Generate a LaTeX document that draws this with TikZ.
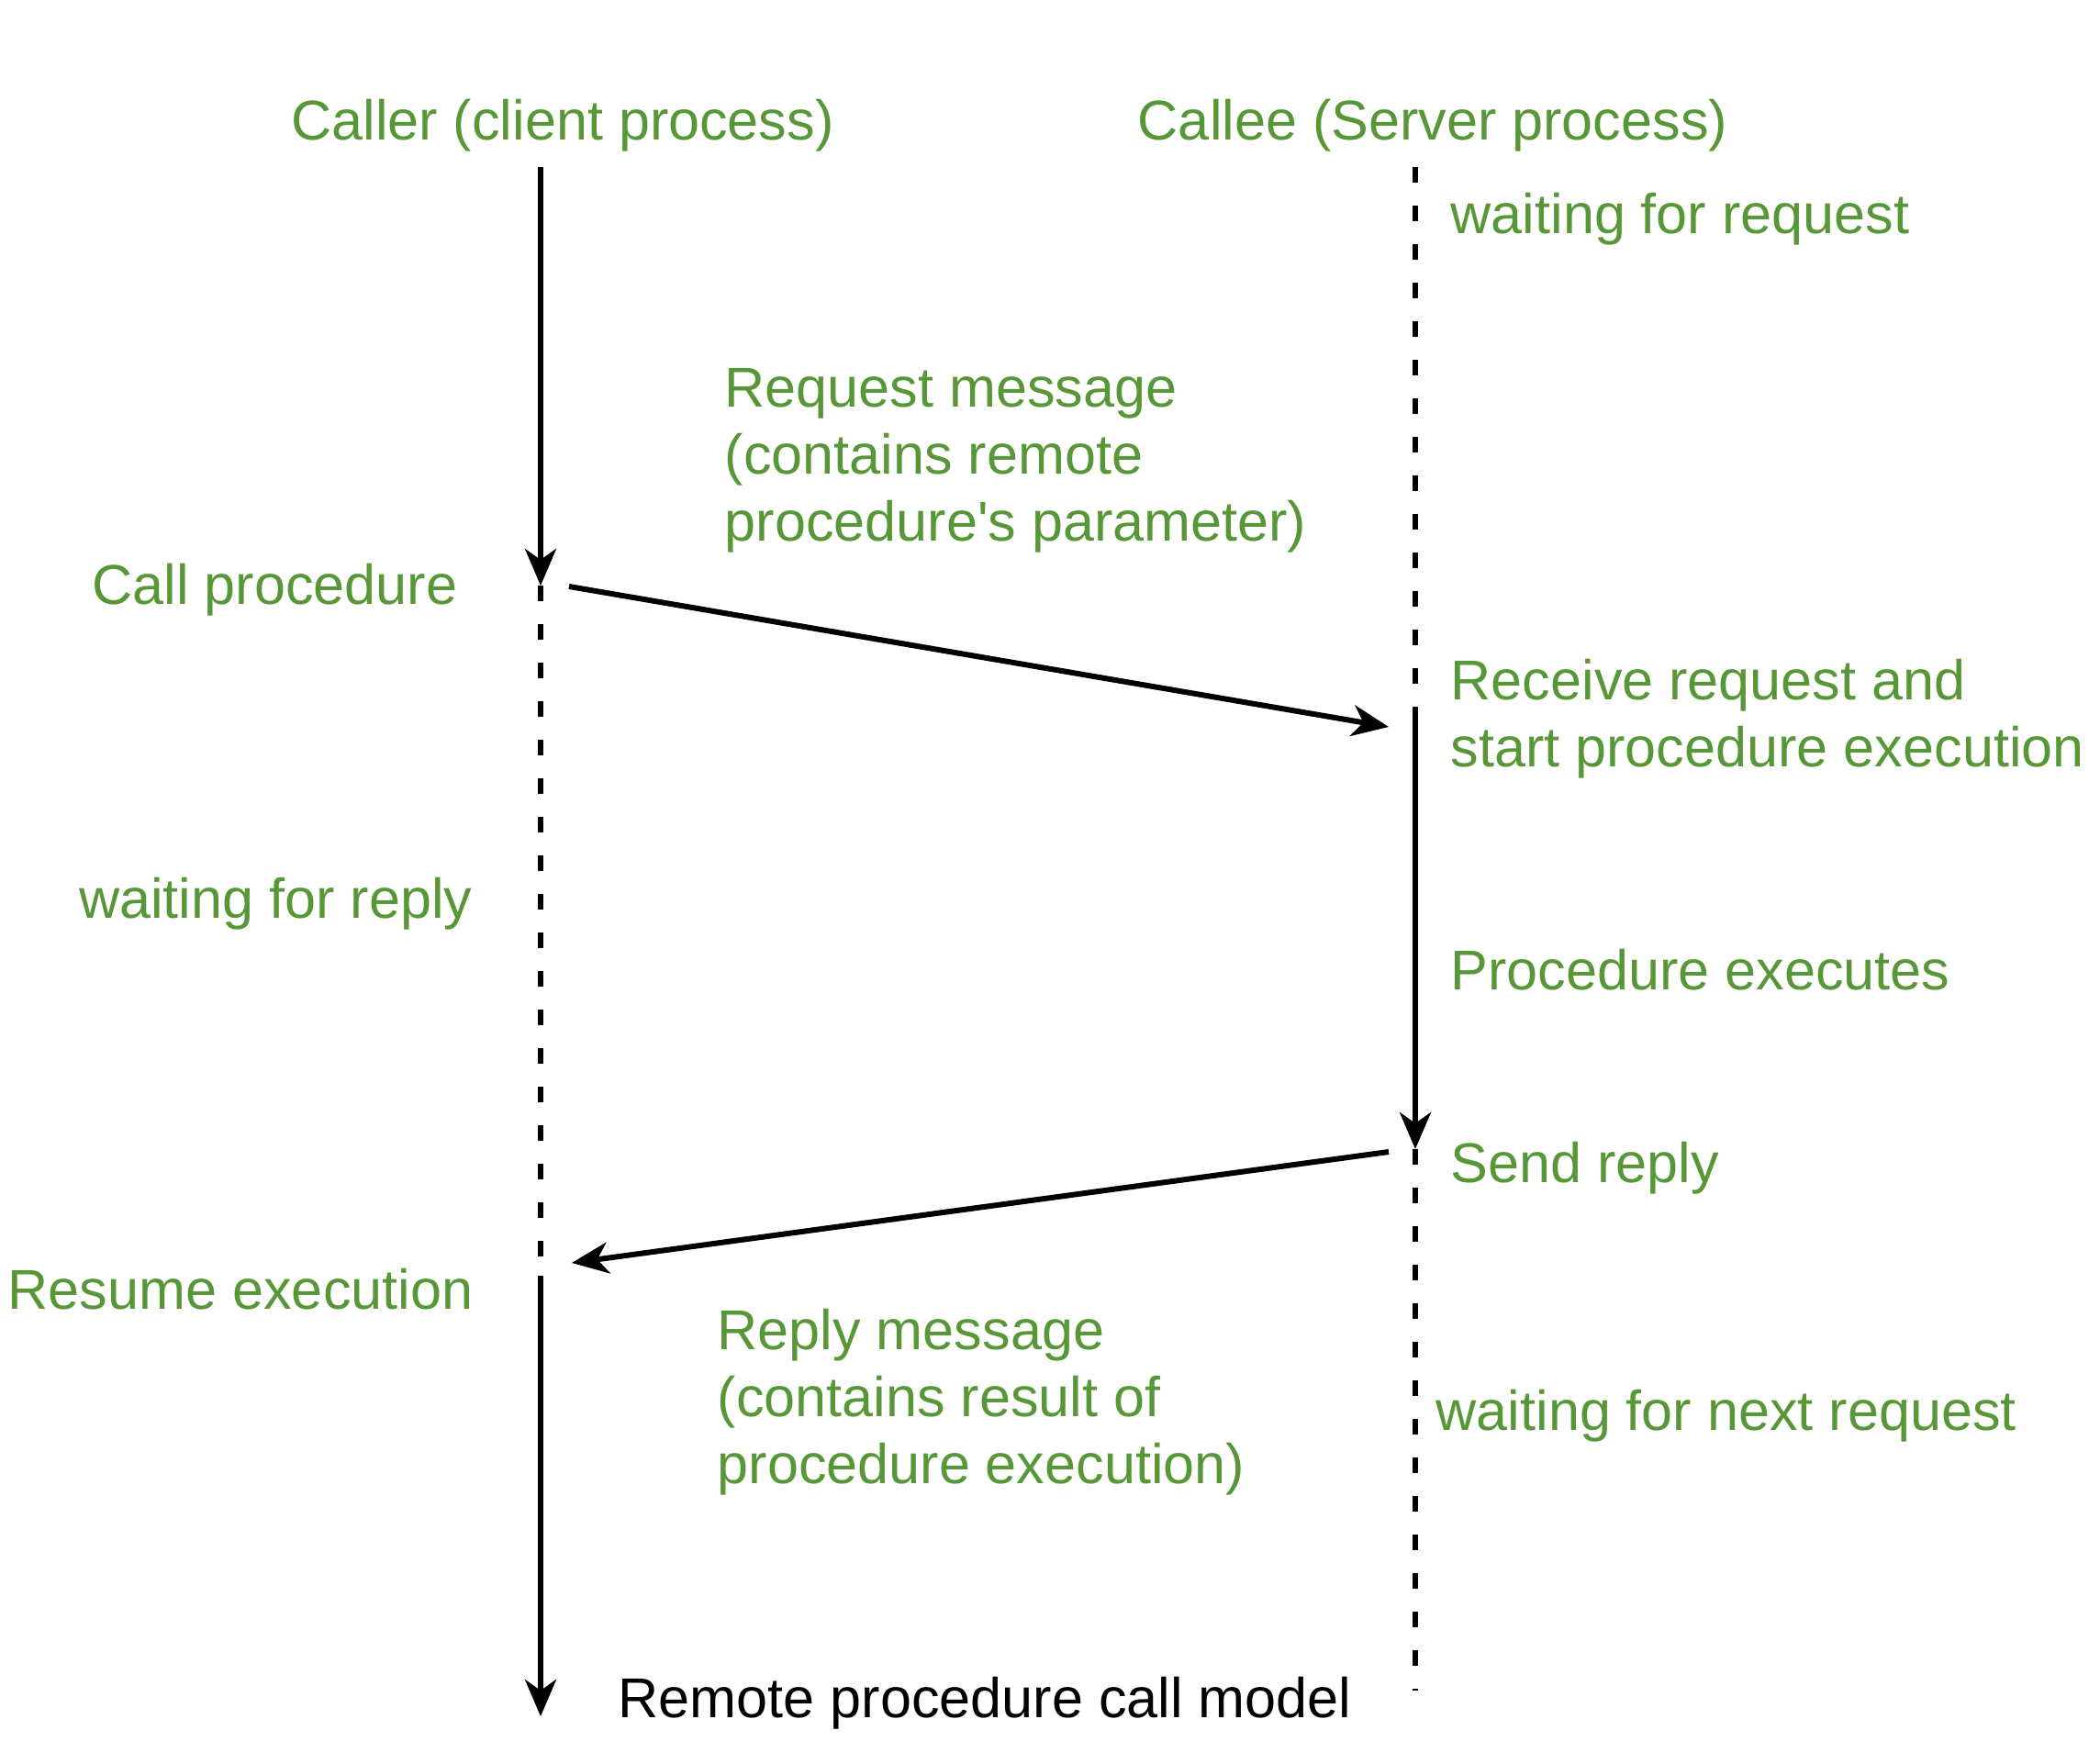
\documentclass[tikz,border=0pt]{standalone}
\usepackage{fontspec}
\setmainfont{Liberation Sans}
\usetikzlibrary{arrows.meta, positioning}
\definecolor{rpcgreen}{RGB}{88,151,55}

\begin{document}
\begin{tikzpicture}[
    lbl/.style={text=rpcgreen, inner sep=0pt, align=left, font=\fontsize{17.4}{20.8}\selectfont},
    life/.style={line width=1.7pt},
    wait/.style={line width=1.7pt, dash pattern=on 0.17cm off 0.25cm},
    >={Stealth[length=0.4cm, width=0.34cm, inset=0.12cm]}]
    \useasboundingbox (0, 0) rectangle (22.88, -19.22);

    \node[lbl] (caller) at (6.13, -1.37) {Caller (client process)};
    \node[lbl] (callee) at (15.61, -1.37) {Callee (Server process)};

    \coordinate (c0) at (5.89, -1.82);
    \coordinate (c1) at (5.89, -6.38);
    \coordinate (c2) at (5.89, -13.90);
    \coordinate (c3) at (5.89, -18.70);
    \coordinate (s0) at (15.42, -1.82);
    \coordinate (s1) at (15.42, -7.80);
    \coordinate (s2) at (15.42, -12.52);
    \coordinate (s3) at (15.42, -18.42);

    \coordinate (reqa) at (6.20, -6.39);
    \coordinate (reqb) at (15.13, -7.92);
    \coordinate (repa) at (15.13, -12.55);
    \coordinate (repb) at (6.23, -13.76);

    \node[lbl, anchor=west] (wreq) at (15.80, -2.39) {waiting for request};
    \node[lbl, anchor=west] (reqmsg) at (7.89, -5.02) {Request message\\(contains remote\\procedure\textquotesingle s parameter)};
    \node[lbl, anchor=east] (call) at (4.99, -6.43) {Call procedure};
    \node[lbl, anchor=west] (recv) at (15.80, -7.83) {Receive request and\\start procedure execution};
    \node[lbl, anchor=east] (wrep) at (5.15, -9.85) {waiting for reply};
    \node[lbl, anchor=west] (exec) at (15.80, -10.57) {Procedure executes};
    \node[lbl, anchor=west] (send) at (15.80, -12.73) {Send reply};
    \node[lbl, anchor=east] (resume) at (5.16, -14.05) {Resume execution};
    \node[lbl, anchor=west] (repmsg) at (7.81, -15.28) {Reply message\\(contains result of\\procedure execution)};
    \node[lbl, anchor=west] (wnext) at (15.64, -15.43) {waiting for next request};
    \node[lbl, anchor=west, text=black] (title) at (6.73, -18.56) {Remote procedure call model};

    \draw[life, ->] (c0) -- (c1);
    \draw[wait] (c1) -- (c2);
    \draw[life, ->] (c2) -- (c3);
    \draw[wait] (s0) -- (s1);
    \draw[life, ->] (s1) -- (s2);
    \draw[wait] (s2) -- (s3);

    \draw[life, ->] (reqa) -- (reqb);
    \draw[life, ->] (repa) -- (repb);
\end{tikzpicture}
\end{document}
